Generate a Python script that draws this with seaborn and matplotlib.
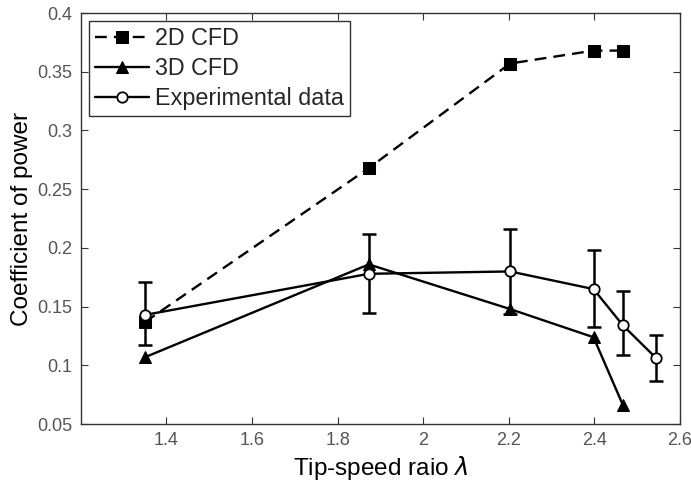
import matplotlib
matplotlib.use("Agg")
import matplotlib.pyplot as plt
import seaborn as sns
import pandas as pd
import numpy as np

# Data
x_2d = [1.35, 1.873, 2.203, 2.398, 2.467]
cp_2d = [0.137, 0.268, 0.357, 0.368, 0.368]

x_3d = [1.35, 1.873, 2.203, 2.398, 2.467]
cp_3d = [0.107, 0.186, 0.148, 0.124, 0.066]

x_exp = [1.35, 1.873, 2.203, 2.398, 2.467, 2.545]
cp_exp = [0.143, 0.178, 0.180, 0.165, 0.134, 0.106]
exp_low = [0.117, 0.145, 0.144, 0.133, 0.109, 0.087]
exp_high = [0.171, 0.212, 0.216, 0.198, 0.163, 0.126]

sns.set_theme(style="white")
plt.rcParams['font.family'] = ['Liberation Sans', 'DejaVu Sans']
plt.rcParams['mathtext.fontset'] = 'dejavusans'

fig = plt.figure(figsize=(6.91, 4.82), dpi=100)
ax = fig.add_axes([0.117, 0.120, 0.867, 0.853])

df2 = pd.DataFrame({"x": x_2d, "y": cp_2d})
df3 = pd.DataFrame({"x": x_3d, "y": cp_3d})
dfe = pd.DataFrame({"x": x_exp, "y": cp_exp})

sns.lineplot(data=df2, x="x", y="y", ax=ax, color="black", lw=1.7,
             marker="s", markersize=8.5, markeredgecolor="black",
             dashes=False, linestyle=(0, (5, 3)), label="2D CFD", sort=False)
sns.lineplot(data=df3, x="x", y="y", ax=ax, color="black", lw=1.7,
             marker="^", markersize=8.5, markeredgecolor="black",
             label="3D CFD", sort=False)
yerr = [np.array(cp_exp) - np.array(exp_low), np.array(exp_high) - np.array(cp_exp)]
ax.errorbar(x_exp, cp_exp, yerr=yerr, fmt="none", ecolor="black",
            elinewidth=1.8, capsize=5, capthick=1.8, zorder=3)
sns.lineplot(data=dfe, x="x", y="y", ax=ax, color="black", lw=1.7,
             marker="o", markersize=7.5, markerfacecolor="white",
             markeredgecolor="black", markeredgewidth=1.3,
             label="Experimental data", sort=False, zorder=4)

ax.set_xlim(1.2, 2.6)
ax.set_ylim(0.05, 0.4)
ax.set_xticks([1.4, 1.6, 1.8, 2.0, 2.2, 2.4, 2.6])
ax.set_xticklabels(["1.4", "1.6", "1.8", "2", "2.2", "2.4", "2.6"])
ax.set_yticks([0.05, 0.1, 0.15, 0.2, 0.25, 0.3, 0.35, 0.4])
ax.set_yticklabels(["0.05", "0.1", "0.15", "0.2", "0.25", "0.3", "0.35", "0.4"])
ax.tick_params(direction="in", length=5, width=0.8, top=True, right=True,
               bottom=True, left=True, labelsize=13, labelcolor="#555555",
               color="#333333", pad=6)
for s in ax.spines.values():
    s.set_color("#333333")
    s.set_linewidth(1.0)

ax.set_xlabel("Tip-speed raio $\\lambda$", fontsize=17.5, color="black", labelpad=3)
ax.set_ylabel("Coefficient of power", fontsize=17.5, color="black", labelpad=3)

leg = ax.legend(loc="upper left", fontsize=16.8, frameon=True, fancybox=False,
                edgecolor="black", handlelength=2.3, handletextpad=0.27,
                borderpad=0.25, labelspacing=0.3, borderaxespad=0.35)
leg.get_frame().set_linewidth(1.0)

fig.savefig("out.png", dpi=100)
